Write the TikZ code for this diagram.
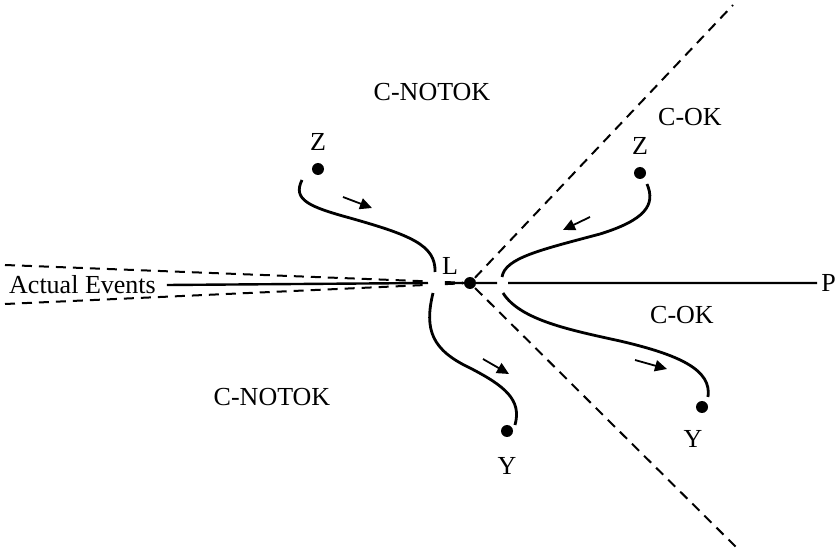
\documentclass[tikz,border=0pt]{standalone}
\usepackage{fontspec}
\setmainfont{Liberation Serif}
\usetikzlibrary{arrows.meta, calc}
\tikzset{
  every picture/.style={line width=1.2pt},
  lab/.style={font=\fontsize{13}{15}\selectfont, inner sep=0pt},
  evdot/.style={circle, fill, inner sep=0pt, minimum size=6pt},
  cone/.style={dash pattern=on 5pt off 3.5pt, line width=1pt},
  track/.style={line width=1.4pt},
  drift/.style={-{Triangle[length=6pt, width=5.6pt]}, line width=0.9pt},
}
\begin{document}
\begin{tikzpicture}[x=0.5pt, y=-0.5pt]
  \useasboundingbox (0,0) rectangle (837,551);
  % points and labels
  \node[evdot] (hub) at (470,283) {};
  \node[evdot] (zl) at (318,169) {};
  \node[evdot] (zr) at (640,173) {};
  \node[evdot] (yl) at (507,431) {};
  \node[evdot] (yr) at (702,407) {};
  \node[lab] (zltxt) at (318,142) {Z};
  \node[lab] (zrtxt) at (640,146) {Z};
  \node[lab] (yltxt) at (507,466) {Y};
  \node[lab] (yrtxt) at (693,439) {Y};
  \node[lab] (ltxt) at (450,266) {L};
  \node[lab, anchor=west] (ev) at (8,285) {Actual Events};
  \node[lab, anchor=east] (pp) at (837,283) {P};
  \node[lab] (nok1) at (432,92) {C-NOTOK};
  \node[lab] (nok2) at (272,397) {C-NOTOK};
  \node[lab] (ok1) at (690,117) {C-OK};
  \node[lab] (ok2) at (682,315) {C-OK};
  % line of events, with gaps where the paths cross
  \coordinate (gapa) at (428,283);
  \coordinate (gapb) at (445,283);
  \coordinate (gapc) at (497,283);
  \coordinate (gapd) at (508,283);
  \draw ([xshift=5pt]ev.east) -- (gapa) (gapb) -- (gapc) (gapd) -- ([xshift=-1.5pt]pp.west);
  % cone and boundaries
  \coordinate (coneup) at (5,265);
  \coordinate (conedn) at (5,304);
  \coordinate (diagup) at (733,5);
  \coordinate (diagdn) at (737,548);
  \foreach \c in {coneup,conedn}
    \draw[cone] (\c) -- ($(\c)!0.91!(hub)$) ($(\c)!0.946!(hub)$) -- (hub);
  \draw[cone] (hub) -- (diagup);
  \draw[cone] (hub) -- (diagdn);
  % paths
  \coordinate (zlend) at (435,272);
  \coordinate (ylend) at (433,293);
  \coordinate (zrend) at (502,277);
  \coordinate (yrend) at (503,293);
  \draw[track] (302,180) .. controls (292,200) and (310,207) .. (350,218)
    .. controls (410,235) and (436,245) .. (zlend);
  \draw[track] (647,184) .. controls (656,205) and (645,220) .. (600,234)
    .. controls (540,250) and (505,258) .. (zrend);
  \draw[track] (ylend) .. controls (424,330) and (432,350) .. (470,368)
    .. controls (505,386) and (522,400) .. (515,425);
  \draw[track] (yrend) .. controls (520,320) and (570,330) .. (620,341)
    .. controls (680,355) and (712,370) .. (708,397);
  % drift arrows
  \draw[drift] (343,197) -- (372,208);
  \draw[drift] (590,217) -- (563,230);
  \draw[drift] (483,359) -- (509,374);
  \draw[drift] (635,360) -- (667,369);
\end{tikzpicture}
\end{document}
